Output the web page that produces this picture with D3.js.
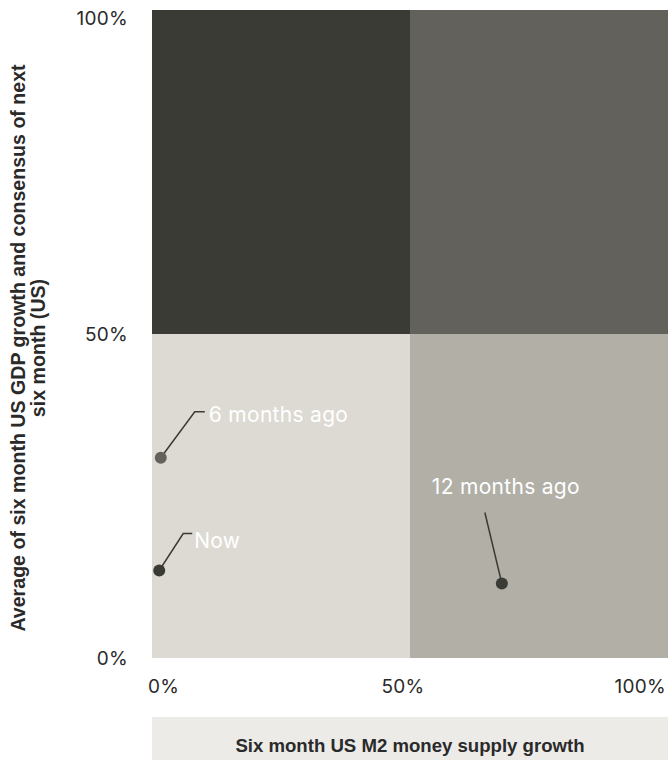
<!DOCTYPE html>
<html>
<head>
<meta charset="utf-8">
<script src="https://cdn.jsdelivr.net/npm/d3@7"></script>
<style>
  html, body { margin: 0; padding: 0; background: #ffffff; }
  svg { display: block; }
</style>
</head>
<body>
<svg id="chart" width="668" height="760"></svg>
<script>
// Quadrant chart: M2 money supply growth vs. GDP growth (percentile ranks)
const xTicks = [0, 50, 100];
const yTicks = [0, 50, 100];
const tickLabels = ["0%", "50%", "100%"];

// Quadrant extents in data units with their fill
const quadX0 = [0, 50, 0, 50];
const quadX1 = [50, 100, 50, 100];
const quadY0 = [50, 50, 0, 0];
const quadY1 = [100, 100, 50, 50];
const quadFill = ["#3b3b36", "#63615c", "#dddad3", "#b2afa7"];

// Observations
const pointNames = ["Now", "6 months ago", "12 months ago"];
const pointX = [1.4, 1.7, 67.8];
const pointY = [13.5, 30.9, 11.5];
const pointFill = ["#3b3b36", "#63615c", "#3b3b36"];

const xTitle = "Six month US M2 money supply growth";
const yTitleLines = ["Average of six month US GDP growth and consensus of next", "six month (US)"];

const svg = d3.select("#chart");
const plotLeft = 152, plotRight = 668, plotTop = 10, plotBottom = 658;

const x = d3.scaleLinear().domain([0, 100]).range([plotLeft, plotRight]);
const y = d3.scaleLinear().domain([0, 100]).range([plotBottom, plotTop]);

// Quadrant backgrounds
svg.append("g").selectAll("rect")
  .data(d3.range(quadX0.length))
  .join("rect")
  .attr("x", i => x(quadX0[i]))
  .attr("y", i => y(quadY1[i]))
  .attr("width", i => x(quadX1[i]) - x(quadX0[i]))
  .attr("height", i => y(quadY0[i]) - y(quadY1[i]))
  .attr("fill", i => quadFill[i]);

const tickFont = "Inter, 'Noto Sans', sans-serif";

// Y tick labels (top label kept inside the view)
svg.append("g").selectAll("text")
  .data(yTicks)
  .join("text")
  .attr("x", plotLeft - 24)
  .attr("y", d => Math.max(y(d), 18))
  .attr("dy", "0.35em")
  .attr("text-anchor", "end")
  .attr("font-family", tickFont)
  .attr("font-size", 19)
  .attr("letter-spacing", 0.3)
  .attr("fill", "#2a2a2a")
  .text((d, i) => tickLabels[i]);

// X tick labels
const xAnchor = ["start", "middle", "end"];
const xShift = [-4, -7, -2];
svg.append("g").selectAll("text")
  .data(xTicks)
  .join("text")
  .attr("x", (d, i) => x(d) + xShift[i])
  .attr("y", plotBottom + 35)
  .attr("text-anchor", (d, i) => xAnchor[i])
  .attr("font-family", tickFont)
  .attr("font-size", 19)
  .attr("letter-spacing", 0.3)
  .attr("fill", "#2a2a2a")
  .text((d, i) => tickLabels[i]);

// X axis title band
svg.append("rect")
  .attr("x", plotLeft)
  .attr("y", 717)
  .attr("width", plotRight - plotLeft)
  .attr("height", 760 - 717)
  .attr("fill", "#ecebe8");
svg.append("text")
  .attr("x", (plotLeft + plotRight) / 2)
  .attr("y", 752)
  .attr("text-anchor", "middle")
  .attr("font-family", "'Liberation Sans', Arial, sans-serif")
  .attr("font-weight", "bold")
  .attr("font-size", 18.6)
  .attr("fill", "#2a2a2a")
  .text(xTitle);

// Y axis title, rotated, two lines
const yTitle = svg.append("text")
  .attr("transform", "translate(25, 348) rotate(-90)")
  .attr("text-anchor", "middle")
  .attr("font-family", "'Liberation Sans', Arial, sans-serif")
  .attr("font-weight", "bold")
  .attr("font-size", 19.6)
  .attr("fill", "#2a2a2a");
yTitle.selectAll("tspan")
  .data(yTitleLines)
  .join("tspan")
  .attr("x", 0)
  .attr("dy", (d, i) => i === 0 ? 0 : 20)
  .text(d => d);

// Annotation leaders: elbow offsets from each point, then label placement
const leadDx1 = [24, 34, -17];
const leadDy1 = [-37, -46, -71];
const leadDx2 = [9, 10, 0];
const labelDx = [35, 48, 4];
const labelDy = [-22.5, -36, -89];
const labelAnchor = ["start", "start", "middle"];

const ann = svg.append("g");
pointNames.forEach((name, i) => {
  const px = x(pointX[i]), py = y(pointY[i]);
  const ex = px + leadDx1[i], ey = py + leadDy1[i];
  const path = d3.path();
  path.moveTo(px, py);
  path.lineTo(ex, ey);
  if (leadDx2[i]) path.lineTo(ex + leadDx2[i], ey);
  ann.append("path")
    .attr("d", path.toString())
    .attr("fill", "none")
    .attr("stroke", "#3b3b36")
    .attr("stroke-width", 1.5);
  ann.append("text")
    .attr("x", px + labelDx[i])
    .attr("y", py + labelDy[i])
    .attr("text-anchor", labelAnchor[i])
    .attr("font-family", tickFont)
    .attr("font-size", 21)
    .attr("letter-spacing", 0.3)
    .attr("fill", "#ffffff")
    .text(name);
});

// Points
svg.append("g").selectAll("circle")
  .data(d3.range(pointNames.length))
  .join("circle")
  .attr("cx", i => x(pointX[i]))
  .attr("cy", i => y(pointY[i]))
  .attr("r", 6)
  .attr("fill", i => pointFill[i]);
</script>
</body>
</html>
